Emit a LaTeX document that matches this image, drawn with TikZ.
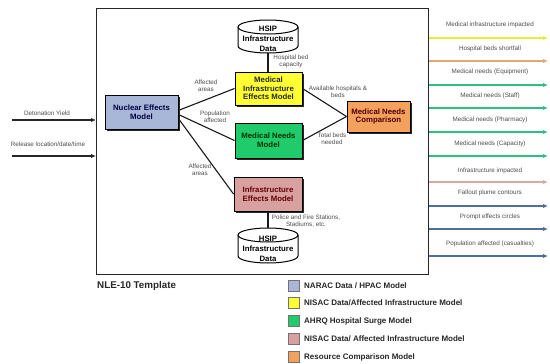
\documentclass[tikz,border=0pt]{standalone}
\usepackage{fontspec}
\setmainfont{Liberation Sans}
\usetikzlibrary{shadows,calc,arrows.meta}
\definecolor{cNuc}{HTML}{A8B6D8}
\definecolor{cYel}{HTML}{FFFF33}
\definecolor{cGrn}{HTML}{1FCB6A}
\definecolor{cPnk}{HTML}{D9A0A0}
\definecolor{cOrg}{HTML}{F5A15E}
\definecolor{oYel}{HTML}{E4EC3C}
\definecolor{oTan}{HTML}{E3A878}
\definecolor{oGrn}{HTML}{2EC07E}
\definecolor{oPnk}{HTML}{D6A8A8}
\definecolor{oBlu}{HTML}{4F6E9E}
\newcommand\bxfont{\fontsize{7.8}{8.7}\selectfont\bfseries}
\newcommand\cyfont{\fontsize{7.8}{9.9}\selectfont\bfseries}
\newcommand\lbfont{\fontsize{6.3}{7.2}\selectfont}
\newcommand\lgfont{\fontsize{8}{9}\selectfont\bfseries}
\begin{document}
\begin{tikzpicture}[x=1pt,y=-1pt,
  mbox/.style={draw=black, line width=1pt, align=center, font=\bxfont, inner sep=0.5pt,
    general shadow={fill=black!85, shadow xshift=1.8pt, shadow yshift=-1.8pt}},
  conn/.style={line width=1.1pt, black!90},
  lbl/.style={font=\lbfont, text=black!70, align=center, inner sep=0pt},
  outarr/.style={line width=1.3pt, -{Latex[length=5pt,width=4.5pt]}},
  inarr/.style={line width=1.1pt, black!85, -{Latex[length=5pt,width=4.5pt]}},
  cylbody/.style={draw=black, line width=1pt, fill=white},
  lgbox/.style={draw=black!55, minimum size=11pt, inner sep=0pt},
  lgtext/.style={font=\lgfont, anchor=west, inner sep=0pt, text=black!85}
]
\useasboundingbox (0,0) rectangle (550,364);

% main frame
\node[draw=black!85, line width=1.4pt, minimum width=332pt, minimum height=266pt, inner sep=0pt, anchor=north west] (frame) at (96,8) {};

% cylinders
\path[cylbody] (238,27) -- (238,46) arc[start angle=180, end angle=0, x radius=30, y radius=7] -- (298,27);
\draw[cylbody] (268,27) ellipse[x radius=30, y radius=7];
\node[minimum width=60pt, minimum height=33pt, inner sep=0pt] (cylA) at (268,36.5) {};
\node[font=\cyfont, align=center, inner sep=0pt] (cylAt) at (268,38.5) {HSIP\\Infrastructure\\Data};

\path[cylbody] (238,235) -- (238,256) arc[start angle=180, end angle=0, x radius=30, y radius=7] -- (298,235);
\draw[cylbody] (268,235) ellipse[x radius=30, y radius=7];
\node[minimum width=60pt, minimum height=35pt, inner sep=0pt] (cylB) at (268,245.5) {};
\node[font=\cyfont, align=center, inner sep=0pt] (cylBt) at (268,248.5) {HSIP\\Infrastructure\\Data};

% model boxes
\node[mbox, fill=cNuc, text=blue!25!black, minimum width=73pt, minimum height=34pt] (nuc) at (141.5,112) {Nuclear Effects\\Model};
\node[mbox, fill=cYel, text=black!85, minimum width=67pt, minimum height=33pt] (yel) at (268.5,88.5) {Medical\\Infrastructure\\Effects Model};
\node[mbox, fill=cGrn, text=green!20!black, minimum width=67pt, minimum height=35pt] (grn) at (268.5,140.5) {Medical Needs\\Model};
\node[mbox, fill=cPnk, text=red!40!black, minimum width=68pt, minimum height=34pt] (pnk) at (268,194) {Infrastructure\\Effects Model};
\node[mbox, fill=cOrg, text=red!30!black, minimum width=63pt, minimum height=31pt] (org) at (378.5,116.5) {Medical Needs\\Comparison};

% connectors
\draw[conn] ($(nuc.east)+(1,-2)$) -- (yel.west);
\draw[conn] ($(nuc.east)+(1,3)$) -- (grn.west);
\draw[conn] ($(nuc.east)+(1,8)$) -- (pnk.west);
\draw[conn] (yel.east) -- (org.west);
\draw[conn] (grn.east) -- (org.west);
\draw[conn] (cylA.south) -- (cylA.south |- yel.north);
\draw[conn] (cylB.north) -- (cylB.north |- pnk.south);

% connector labels
\node[lbl] (lb1) at (291,61) {Hospital bed\\capacity};
\node[lbl] (lb2) at (206,86) {Affected\\areas};
\node[lbl] (lb3) at (215,117) {Population\\affected};
\node[lbl] (lb4) at (200,170) {Affected\\areas};
\node[lbl] (lb5) at (338,91.5) {Available hospitals \&\\beds};
\node[lbl] (lb6) at (332,139) {Total beds\\needed};
\node[lbl] (lb7) at (306,221.5) {Police and Fire Stations,\\Stadiums, etc.};

% inputs
\coordinate (in1) at (12,120);
\coordinate (in2) at (12,156);
\draw[inarr] (in1) -- (in1 -| frame.west);
\draw[inarr] (in2) -- (in2 -| frame.west);
\node[lbl] (il1) at (47,113) {Detonation Yield};
\node[lbl] (il2) at (48,144) {Release location/date/time};

% outputs
\foreach \ly/\yy/\cc/\tt [count=\i] in {
  25/38/oYel/{Medical infrastructure impacted},
  49/61/oTan/{Hospital beds shortfall},
  72/85/oGrn/{Medical needs (Equipment)},
  96/108/oGrn/{Medical needs (Staff)},
  120/132/oGrn/{Medical needs (Pharmacy)},
  144/156/oGrn/{Medical needs (Capacity)},
  171/182/oPnk/{Infrastructure impacted},
  193/206/oBlu/{Fallout plume contours},
  217/229/oBlu/{Prompt effects circles},
  244/256/oBlu/{Population affected (casualties)}}
{
  \coordinate (oe\i) at (548,\yy);
  \draw[outarr, \cc] (oe\i -| frame.east) -- (oe\i);
  \node[lbl] (ol\i) at (490,\ly) {\tt};
}

% title and legend
\node[font=\fontsize{9.8}{11}\selectfont\bfseries, anchor=west, inner sep=0pt, text=black!85] (ttl) at (97,286) {NLE-10 Template};
\foreach \yy/\cc/\tt [count=\i] in {
  286/cNuc/{NARAC Data / HPAC Model},
  303/cYel/{NISAC Data/Affected Infrastructure Model},
  321/cGrn/{AHRQ Hospital Surge Model},
  339/cPnk/{NISAC Data/ Affected Infrastructure Model},
  357/cOrg/{Resource Comparison Model}}
{
  \node[lgbox, fill=\cc] (lg\i) at (293.5,\yy) {};
  \node[lgtext] (lt\i) at (304,\yy) {\tt};
}
\end{tikzpicture}
\end{document}
